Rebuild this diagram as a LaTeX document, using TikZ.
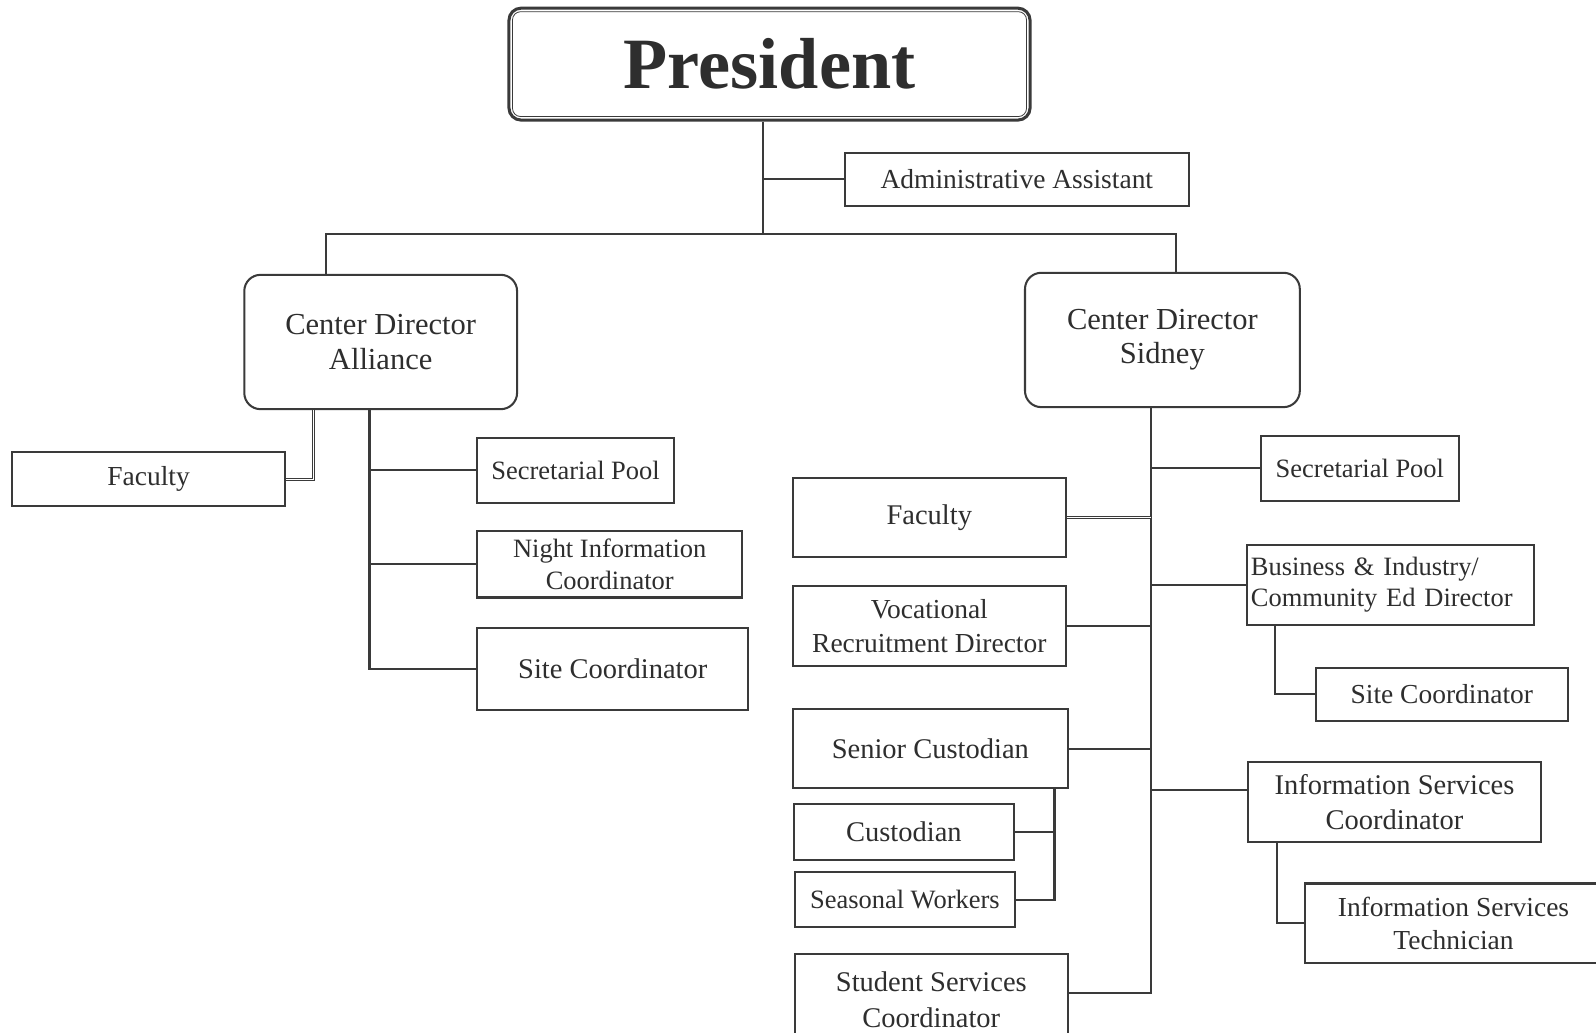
\documentclass[tikz,border=0pt]{standalone}
\usepackage{fontspec}
\setmainfont{Liberation Serif}
\definecolor{linec}{HTML}{3A3A3A}
\definecolor{textc}{HTML}{2E2E2E}
\begin{document}
\begin{tikzpicture}[x=1pt,y=-1pt,
  box/.style={draw=linec, line width=2pt, rectangle, inner sep=0pt, text=textc, align=center},
  rbox/.style={box, rounded corners=16pt},
  link/.style={draw=linec, line width=2pt},
  dbl/.style={draw=linec, double=white, double distance=1.6pt, line width=1pt},
  fs/.style 2 args={font=\fontsize{#1}{#2}\selectfont},
  sz/.style 2 args={minimum width=#1, minimum height=#2}]

\clip (0,0) rectangle (1568,1014);
\fill[white] (0,0) rectangle (1568,1014);

% top of the chart
\node[box, rounded corners=12pt, line width=3pt, sz={512pt}{110pt},
      font=\bfseries\fontsize{71}{78}\selectfont] (pres) at (756,63) {\raisebox{-2pt}{President}};
\draw[linec, line width=0.8pt, rounded corners=8pt]
  ([shift={(5pt,-5pt)}]pres.north west) rectangle ([shift={(-5pt,5pt)}]pres.south east);
\node[box, sz={338pt}{52pt}, fs={27}{32}] (admin) at (999,176) {Administrative Assistant};

% the two centres
\node[rbox, sz={268pt}{132pt}, fs={30}{37}] (cdA) at (374,336) {\raisebox{-3pt}{Center Director}\\Alliance};
\node[rbox, sz={270pt}{132pt}, fs={30}{37}] (cdS) at (1142,334) {\raisebox{-4pt}{Center Director}\\Sidney};

% Alliance staff
\node[box, sz={268pt}{53pt}, fs={27}{32}] (facA) at (146,471) {Faculty};
\node[box, sz={193pt}{64pt}, fs={26}{31}] (secA) at (565.5,462) {Secretarial Pool};
\node[box, sz={260pt}{65pt}, fs={26}{31}] (night) at (599,554.5) {Night Information\\Coordinator};
\node[box, sz={266pt}{81pt}, fs={28}{33}] (siteA) at (602,657.5) {Site Coordinator};

% Sidney staff, left column
\node[box, sz={268pt}{77pt}, fs={28}{33}] (facS) at (913,508.5) {Faculty};
\node[box, sz={268pt}{78pt}, fs={27}{33}] (voc) at (913,615) {Vocational\\Recruitment Director};
\node[box, sz={270pt}{77pt}, fs={28}{33}] (senior) at (914,735.5) {Senior Custodian};
\node[box, sz={216pt}{55pt}, fs={28}{33}] (cust) at (888,817.5) {Custodian};
\node[box, sz={216pt}{54pt}, fs={26}{31}] (seas) at (889,884) {Seasonal Workers};
\node[box, sz={268pt}{90pt}, fs={28}{35}] (stud) at (915,982) {Student Services\\Coordinator};

% Sidney staff, right column
\node[box, sz={194pt}{64pt}, fs={26}{31}] (secS) at (1336,460) {Secretarial Pool};
\node[box, text width=274pt, align=left, inner xsep=4pt, minimum height=79pt, fs={26}{31}] (bus) at (1366,574.5)
  {Business \& Industry/\\Community Ed Director};
\node[box, sz={247pt}{52pt}, fs={27}{32}] (siteS) at (1416.5,682) {Site Coordinator};
\node[box, sz={288pt}{78pt}, fs={28}{34}] (info) at (1370,788) {Information Services\\Coordinator};
\node[box, sz={292pt}{78pt}, fs={27}{32}] (tech) at (1428,907) {Information Services\\Technician};

% president links
\coordinate (tP) at (750,230);
\coordinate (barL) at (320,230);
\coordinate (barR) at (1155,230);
\draw[link] (tP |- pres.south) -- (tP);
\draw[link] (tP |- admin.west) -- (admin.west);
\draw[link] (cdA.north -| barL) -- (barL) -- (barR) -- (cdS.north -| barR);

% Alliance links
\coordinate (tA) at (363,657.5);
\coordinate (fA) at (308,471);
\draw[link] (tA |- cdA.south) -- (tA) -- (siteA.west);
\draw[link] (tA |- secA.west) -- (secA.west);
\draw[link] (tA |- night.west) -- (night.west);
\draw[dbl] (fA |- cdA.south) -- (fA) -- (facA.east);

% Sidney links
\coordinate (tS) at (1131,976);
\coordinate (infoL) at (1131,776);
\draw[link] (tS |- cdS.south) -- (tS) -- (tS -| stud.east);
\draw[link] (tS |- secS.west) -- (secS.west);
\draw[dbl] (tS |- facS.east) -- (facS.east);
\draw[link] (tS |- voc.east) -- (voc.east);
\draw[link] (tS |- bus.west) -- (bus.west);
\draw[link] (tS |- senior.east) -- (senior.east);
\draw[link] (infoL) -- (infoL -| info.west);

% sub-links
\coordinate (bS) at (1253,682);
\draw[link] (bS |- bus.south) -- (bS) -- (siteS.west);
\coordinate (iT) at (1255,907);
\draw[link] (iT |- info.south) -- (iT) -- (tech.west);
\coordinate (cS) at (1036,884);
\draw[link] (cS |- senior.south) -- (cS) -- (seas.east);
\draw[link] (cS |- cust.east) -- (cust.east);
\end{tikzpicture}
\end{document}
